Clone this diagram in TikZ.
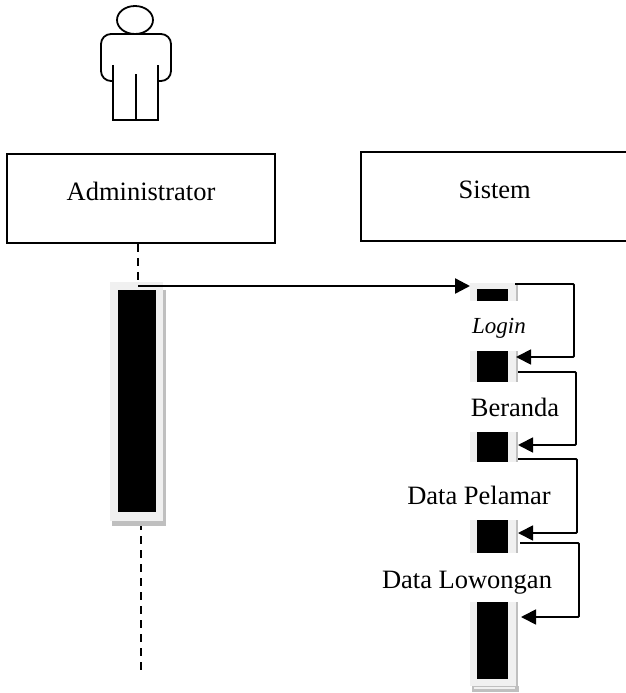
\documentclass[tikz,border=0pt]{standalone}
\usepackage{fontspec}
\setmainfont{Liberation Serif}
\usetikzlibrary{arrows.meta}
\begin{document}
\begin{tikzpicture}[x=1pt, y=-1pt, line cap=butt,
        actor_style/.style={draw=black, line width=1.8pt},
        box_style/.style={draw=black, line width=1.5pt, fill=white, minimum height=89pt, font=\fontsize{26.5}{30}\selectfont},
        label_style/.style={anchor=base, inner sep=0pt, font=\fontsize{26.5}{30}\selectfont},
        lifeline_style/.style={draw=black, line width=2pt, dash pattern=on 8pt off 6pt},
        message_style/.style={draw=black, line width=2.4pt, -{Triangle[length=15pt,width=15pt]}},
        loop_style/.style={draw=black, line width=1.8pt, -{Triangle[length=15pt,width=15pt]}, rounded corners=1pt}]
        \useasboundingbox (0,0) rectangle (626,693);

        % actor
        \draw [actor_style] (135,20) ellipse (18 and 14);
        \draw [actor_style, rounded corners=10pt] (113,81) -- (101,81) -- (101,34) -- (171,34) -- (171,81) -- (158,81);
        \draw [actor_style] (113,65) -- (113,120) -- (158,120) -- (158,65);
        \draw [actor_style] (136,74) -- (136,120);

        % header boxes
        \node [box_style, minimum width=268pt, text depth=15pt] (admin) at (141,198.5) {Administrator};
        \node [box_style, minimum width=268pt, text depth=13pt, anchor=north west] (sistem) at (360,151) {Sistem};

        % lifelines
        \coordinate (a1) at (138,280);
        \coordinate (a2) at (141,522);
        \coordinate (a3) at (141,670);
        \draw [lifeline_style] (admin.south -| a1) -- (a1);
        \draw [lifeline_style] (a2) -- (a3);

        % activation bars
        \fill [black!25] (112,290) rectangle (166,526);
        \fill [black!6] (110,282) rectangle (163,521);
        \fill [black] (118,290) rectangle (156,512);

        \foreach \top/\btop/\bot/\bbot in {283/289/301/301, 351/351/382/382, 432/432/462/462, 520/520/553/553, 602/602/686/679} {
            \fill [black!25] (470,\top) rectangle (518,\bot);
            \fill [black!6] (470,\top) rectangle (516,\bot);
            \fill [black] (477,\btop) rectangle (508,\bbot);
        }
        \fill [black!25] (472,686) rectangle (519,692);
        \fill [black!6] (474,687) rectangle (515,689);

        % messages
        \coordinate (m1) at (138,286);
        \coordinate (m2) at (470,286);
        \draw [message_style] (m1) -- (m2);

        \coordinate (l1) at (515,284);
        \coordinate (l2) at (516,357);
        \coordinate (l3) at (518,372);
        \coordinate (l4) at (518,445);
        \coordinate (l5) at (518,459);
        \coordinate (l6) at (518,533);
        \coordinate (l7) at (520,543);
        \coordinate (l8) at (521,617);
        \draw [loop_style] (l1) -- (574,284) -- (574,357) -- (l2);
        \draw [loop_style] (l3) -- (576,372) -- (576,445) -- (l4);
        \draw [loop_style] (l5) -- (577,459) -- (577,533) -- (l6);
        \draw [loop_style] (l7) -- (579,543) -- (579,617) -- (l8);

        % labels
        \node [label_style, font=\fontsize{23}{26}\selectfont] (t1) at (499,333) {\textit{Login}};
        \node [label_style] (t2) at (515,416) {Beranda};
        \node [label_style] (t3) at (479,504) {Data Pelamar};
        \node [label_style] (t4) at (467,588) {Data Lowongan};
\end{tikzpicture}
\end{document}
